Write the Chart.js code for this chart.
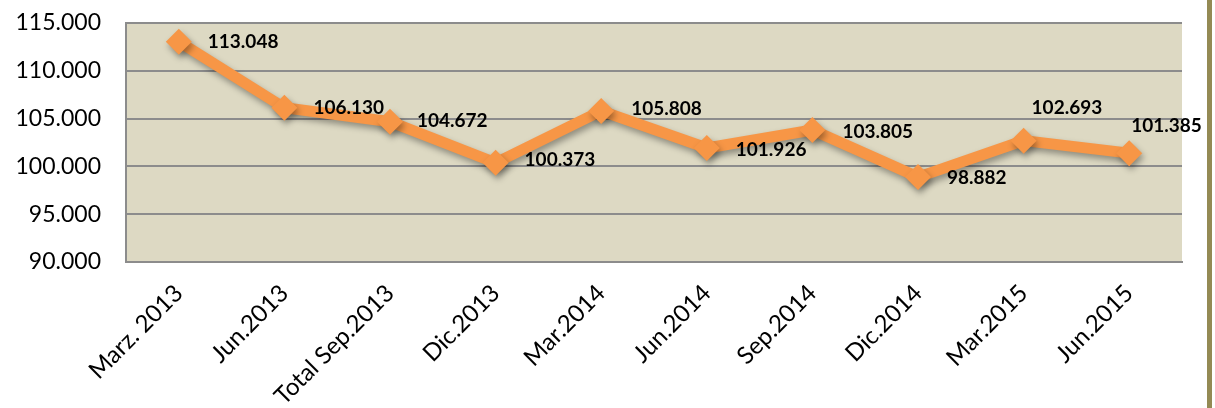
<!DOCTYPE html>
<html>
<head>
<meta charset="utf-8">
<script src="https://cdn.jsdelivr.net/npm/chart.js@4"></script>
<style>
    html, body { margin: 0; padding: 0; background: #fff; }
    #wrap { position: relative; width: 1215px; height: 408px; }
    #side-bar { position: absolute; left: 1207px; top: 0; width: 5px; height: 408px; background: #948a54; }
</style>
</head>
<body>
<div id="wrap">
    <canvas id="chart" width="1215" height="408"></canvas>
    <div id="side-bar"></div>
</div>
<script>
const categories = ['Marz. 2013', 'Jun.2013', 'Total Sep.2013', 'Dic.2013', 'Mar.2014', 'Jun.2014', 'Sep.2014', 'Dic.2014', 'Mar.2015', 'Jun.2015'];
const values = [113.048, 106.130, 104.672, 100.373, 105.808, 101.926, 103.805, 98.882, 102.693, 101.385];
const yTicks = [90, 95, 100, 105, 110, 115];

// where each value label sits relative to its point (px)
const labelOffsets = [[29, 0], [29, 0], [27, -1], [29, -3], [30, -2], [29, 2], [30, 2], [29, 1], [8, -33], [2, -27]];

const ORANGE = '#f79646';
const GRID = '#8c8c8c';

const plotBackground = {
    id: 'plotBackground',
    beforeDraw(chart) {
        const { ctx, chartArea } = chart;
        ctx.save();
        ctx.fillStyle = '#ddd9c3';
        ctx.fillRect(chartArea.left, chartArea.top, chartArea.right - chartArea.left, chartArea.bottom - chartArea.top);
        ctx.restore();
    }
};

const lineShadow = {
    id: 'lineShadow',
    beforeDatasetDraw(chart) {
        const ctx = chart.ctx;
        ctx.save();
        ctx.shadowColor = 'rgba(0, 0, 0, 0.35)';
        ctx.shadowBlur = 6;
        ctx.shadowOffsetX = 2;
        ctx.shadowOffsetY = 4;
    },
    afterDatasetDraw(chart) {
        chart.ctx.restore();
    }
};

const valueLabels = {
    id: 'valueLabels',
    afterDatasetsDraw(chart) {
        const ctx = chart.ctx;
        const meta = chart.getDatasetMeta(0);
        ctx.save();
        ctx.font = 'bold 19px Lato';
        ctx.fillStyle = '#000';
        ctx.textAlign = 'left';
        ctx.textBaseline = 'middle';
        meta.data.forEach((pt, i) => {
            const off = labelOffsets[i];
            ctx.fillText(values[i].toFixed(3), pt.x + off[0], pt.y + off[1]);
        });
        ctx.restore();
    }
};

new Chart(document.getElementById('chart').getContext('2d'), {
    type: 'line',
    data: {
        labels: categories,
        datasets: [{
            data: values,
            borderColor: ORANGE,
            backgroundColor: ORANGE,
            borderWidth: 11,
            tension: 0,
            pointStyle: 'rectRot',
            pointRadius: 13,
            pointHoverRadius: 13,
            pointBackgroundColor: ORANGE,
            pointBorderWidth: 0
        }]
    },
    options: {
        responsive: false,
        animation: false,
        layout: { padding: { top: 23, right: 33, left: 0, bottom: 0 } },
        plugins: {
            legend: { display: false },
            tooltip: { enabled: false }
        },
        scales: {
            x: {
                offset: true,
                grid: { display: false, drawTicks: false, tickLength: 0 },
                border: { display: true, color: GRID, width: 2 },
                ticks: {
                    color: '#000',
                    font: { family: 'Lato', size: 24 },
                    minRotation: 45,
                    maxRotation: 45,
                    padding: 17
                },
                afterFit(scale) { scale.height = 146; }
            },
            y: {
                min: 90,
                max: 115,
                afterBuildTicks(scale) { scale.ticks = yTicks.map(v => ({ value: v })); },
                grid: { color: GRID, lineWidth: 2, drawTicks: false, tickLength: 0 },
                border: { display: true, color: GRID, width: 2 },
                ticks: {
                    color: '#000',
                    font: { family: 'Lato', size: 23 },
                    padding: 25,
                    callback: v => v.toFixed(3)
                },
                afterFit(scale) {
                    scale.width = 126;
                    scale.paddingTop = 0;
                    scale.paddingBottom = 0;
                }
            }
        }
    },
    plugins: [plotBackground, lineShadow, valueLabels]
});
</script>
</body>
</html>
